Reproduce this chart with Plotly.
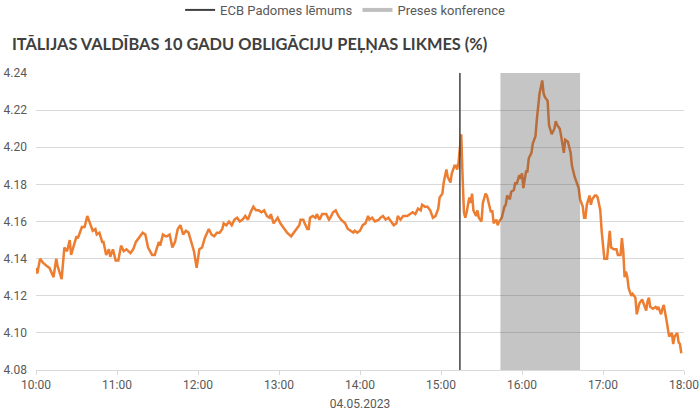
import pandas as pd
import plotly.graph_objects as go

# minutes after 10:00 on 04.05.2023 and yield values (%)
minutes_after_10 = [
    0, 1, 3, 5, 8, 10, 13, 15, 16, 19, 21, 23, 25, 26, 30, 31, 34, 36, 38, 39,
    42, 44, 45, 47, 49, 50, 52, 54, 55, 57, 59, 61, 63, 65, 67, 70, 72, 74, 77, 79,
    81, 83, 86, 88, 91, 92, 94, 96, 97, 99,
    101, 103, 105, 107, 109, 111, 113, 115, 117, 119, 121, 123, 125, 128, 130, 132, 134, 136, 138, 139,
    141, 143, 145, 147, 149, 151, 153, 155, 157, 159, 161, 163, 165, 167, 169, 171, 173, 174, 176, 178,
    179, 181, 184, 186, 189, 191, 193, 195,
    196, 198, 199, 201, 202, 203, 205, 207, 208, 210, 212, 215, 217, 218, 220, 222, 224, 226, 229, 231,
    233, 235, 236, 238, 240, 242, 244, 246, 247, 249, 251, 254, 255, 257, 259, 261, 263, 265, 267, 268,
    270, 272, 275, 277, 279, 281, 283, 285, 286, 288, 290, 292, 294, 296,
    298, 299, 301, 302, 304, 305, 307, 308, 310, 311, 312, 313, 315, 316, 317, 318, 319, 321, 322, 323,
    324, 326, 327, 328, 330, 331, 333, 334, 336, 337, 338, 339, 341, 342, 343, 345, 347, 348, 349, 351,
    352, 354, 355, 356, 358, 359, 360, 361, 363, 364, 365, 367, 368, 370, 371, 372, 373, 375, 376, 377,
    379, 380, 381, 382, 384, 385, 386, 388, 389, 391, 392, 394, 396, 397, 399,
    400, 402, 403, 405, 406, 407, 408, 410, 411, 412, 414, 415, 416, 418, 419, 420, 421, 423, 424, 425,
    426, 428, 430, 431, 433, 434, 435, 436, 437, 438, 439, 441, 442, 444, 445, 446, 447, 449, 450, 452,
    453, 454, 455, 457, 459, 460, 461, 463, 464, 465, 467, 468, 469, 471, 472, 473, 475, 476, 477, 478,
]
yield_pct = [
    4.135, 4.132, 4.140, 4.138, 4.136, 4.135, 4.130, 4.140, 4.136, 4.129, 4.146, 4.144, 4.150, 4.142, 4.152, 4.151, 4.157, 4.157, 4.163, 4.161,
    4.155, 4.156, 4.153, 4.154, 4.149, 4.149, 4.142, 4.145, 4.141, 4.145, 4.139, 4.139, 4.147, 4.144, 4.145, 4.143, 4.145, 4.149, 4.152, 4.154,
    4.153, 4.146, 4.142, 4.142, 4.149, 4.147, 4.153, 4.152, 4.152, 4.153,
    4.146, 4.149, 4.156, 4.158, 4.153, 4.155, 4.154, 4.149, 4.144, 4.135, 4.145, 4.146, 4.151, 4.156, 4.153, 4.152, 4.154, 4.154, 4.156, 4.159,
    4.158, 4.160, 4.158, 4.161, 4.162, 4.160, 4.161, 4.163, 4.161, 4.165, 4.168, 4.166, 4.166, 4.165, 4.166, 4.163, 4.162, 4.164, 4.159, 4.161,
    4.162, 4.159, 4.156, 4.154, 4.152, 4.154, 4.156, 4.158,
    4.161, 4.161, 4.159, 4.156, 4.156, 4.162, 4.163, 4.162, 4.164, 4.161, 4.164, 4.164, 4.161, 4.162, 4.165, 4.166, 4.163, 4.161, 4.159, 4.156,
    4.155, 4.154, 4.155, 4.154, 4.155, 4.158, 4.159, 4.163, 4.161, 4.162, 4.160, 4.161, 4.162, 4.163, 4.161, 4.162, 4.160, 4.158, 4.159, 4.163,
    4.161, 4.163, 4.163, 4.164, 4.165, 4.164, 4.167, 4.166, 4.169, 4.168, 4.168, 4.166, 4.162, 4.163,
    4.167, 4.173, 4.175, 4.181, 4.188, 4.184, 4.181, 4.186, 4.190, 4.190, 4.188, 4.192, 4.207, 4.184, 4.165, 4.162, 4.165, 4.173, 4.170, 4.175,
    4.166, 4.163, 4.166, 4.162, 4.160, 4.170, 4.175, 4.174, 4.168, 4.165, 4.166, 4.159, 4.161, 4.158, 4.160, 4.162, 4.168, 4.169, 4.174, 4.172,
    4.176, 4.177, 4.181, 4.180, 4.185, 4.183, 4.186, 4.178, 4.187, 4.187, 4.194, 4.197, 4.202, 4.206, 4.215, 4.222, 4.229, 4.236, 4.229, 4.227,
    4.225, 4.212, 4.209, 4.207, 4.210, 4.214, 4.212, 4.210, 4.206, 4.197, 4.204, 4.203, 4.197, 4.190, 4.184,
    4.182, 4.178, 4.172, 4.168, 4.162, 4.162, 4.169, 4.174, 4.169, 4.172, 4.174, 4.174, 4.173, 4.166, 4.155, 4.149, 4.140, 4.140, 4.149, 4.155,
    4.146, 4.145, 4.145, 4.142, 4.142, 4.151, 4.144, 4.130, 4.133, 4.130, 4.124, 4.120, 4.121, 4.119, 4.110, 4.113, 4.116, 4.118, 4.116, 4.112,
    4.117, 4.119, 4.114, 4.113, 4.114, 4.113, 4.114, 4.110, 4.113, 4.115, 4.107, 4.101, 4.098, 4.100, 4.094, 4.098, 4.100, 4.095, 4.094, 4.089,
]

day = "2023-05-04"
ecb_decision_time = "15:14"
press_conf_start = "15:44"
press_conf_end = "16:43"
y_ticks = [4.08, 4.10, 4.12, 4.14, 4.16, 4.18, 4.20, 4.22, 4.24]

base = pd.Timestamp(f"{day} 10:00")
times = [base + pd.Timedelta(minutes=m) for m in minutes_after_10]

font_fam = "Liberation Sans Narrow, Roboto, Arial, sans-serif"
grey_txt = "#595959"

fig = go.Figure()
fig.add_trace(go.Scatter(
    x=times, y=yield_pct, mode="lines",
    line=dict(color="#ED7D31", width=2.5),
    showlegend=False, hoverinfo="x+y",
))
# legend-only entries
fig.add_trace(go.Scatter(x=[None], y=[None], mode="lines", name="ECB Padomes lēmums",
                         line=dict(color="#404040", width=2)))
fig.add_trace(go.Scatter(x=[None], y=[None], mode="lines", name="Preses konference",
                         line=dict(color="#bfbfbf", width=4)))

fig.add_shape(type="rect", xref="x", yref="paper",
              x0=pd.Timestamp(f"{day} {press_conf_start}"), x1=pd.Timestamp(f"{day} {press_conf_end}"),
              y0=0, y1=1, fillcolor="rgba(80,80,80,0.33)", line=dict(width=0), layer="above")
fig.add_shape(type="line", xref="x", yref="paper",
              x0=pd.Timestamp(f"{day} {ecb_decision_time}"), x1=pd.Timestamp(f"{day} {ecb_decision_time}"),
              y0=0, y1=1, line=dict(color="#404040", width=1.5), layer="above")

fig.update_layout(
    width=700, height=415,
    margin=dict(l=36, r=16, t=73, b=45, autoexpand=False),
    paper_bgcolor="white", plot_bgcolor="white",
    font=dict(family=font_fam, size=12, color=grey_txt),
    title=dict(text="<b>ITĀLIJAS VALDĪBAS 10 GADU OBLIGĀCIJU PEĻŅAS LIKMES (%)</b>",
               x=0.017, xanchor="left", y=0.893, yanchor="middle",
               font=dict(family="Lato, Open Sans, sans-serif", size=16.4, color="#404040")),
    legend=dict(orientation="h", x=0.493, xanchor="center", xref="container",
                y=0.976, yanchor="middle", yref="container",
                font=dict(size=13, color=grey_txt), itemwidth=30, traceorder="normal"),
    xaxis=dict(
        type="date", automargin=False,
        range=[base, base + pd.Timedelta(hours=8)],
        dtick=3600000, tickformat="%H:%M",
        showgrid=False, showline=True, linecolor="#d9d9d9", linewidth=1,
        ticks="outside", ticklen=4, tickcolor="#d9d9d9",
        tickfont=dict(size=12, color=grey_txt),
        title=dict(text="04.05.2023", font=dict(size=12, color=grey_txt), standoff=8),
    ),
    yaxis=dict(
        range=[4.08, 4.24], tickvals=y_ticks, tickformat=".2f", automargin=False,
        showgrid=True, gridcolor="#d9d9d9", gridwidth=1,
        zeroline=False, showline=False,
        tickfont=dict(size=12, color=grey_txt), ticklabelstandoff=8,
    ),
)

fig.write_html("out.html", config={"displayModeBar": False},
               post_script="document.body.style.margin='0px';")
